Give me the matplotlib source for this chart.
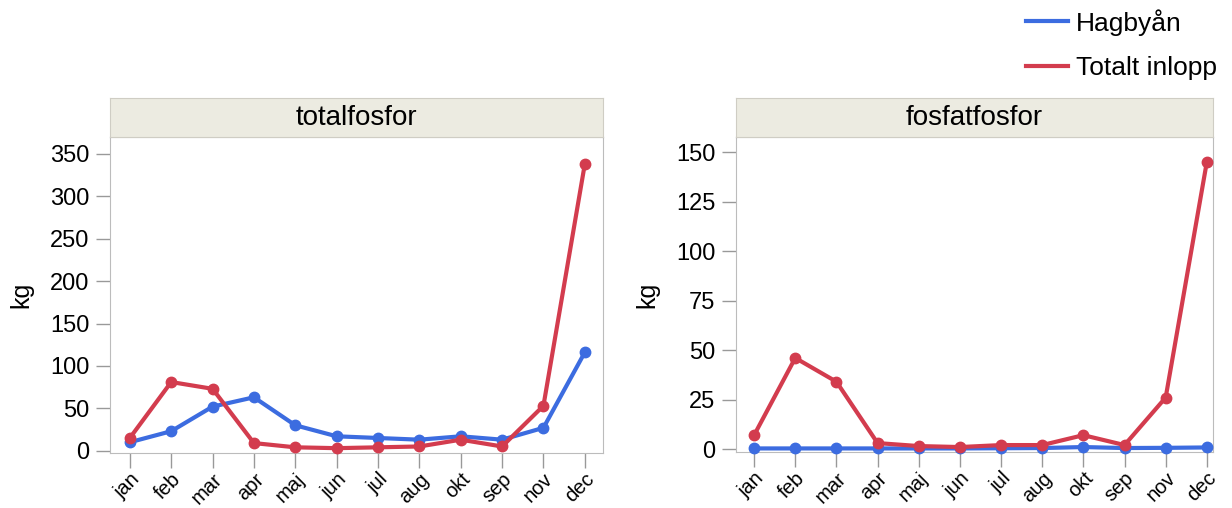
import numpy as np
import matplotlib.pyplot as plt
from matplotlib.lines import Line2D

plt.rcParams['font.family'] = ['Liberation Sans', 'DejaVu Sans']

months = ['jan', 'feb', 'mar', 'apr', 'maj', 'jun', 'jul', 'aug', 'okt', 'sep', 'nov', 'dec']

# totalfosfor, kg per month
tot_hagbyan = [10, 23, 52, 63, 30, 17, 15, 13, 17, 13, 27, 116]
tot_inlopp = [15, 81, 73, 9, 4, 3, 4, 5, 13, 5, 53, 338]

# fosfatfosfor, kg per month
fos_hagbyan = [0.3, 0.3, 0.3, 0.3, 0.3, 0.3, 0.4, 0.5, 1.0, 0.5, 0.6, 0.8]
fos_inlopp = [7, 46, 34, 3, 1.5, 1, 2, 2, 7, 2, 26, 145]

BLUE = '#3c6ce0'
RED = '#d33c4e'
FRAME = '#bcbcbc'

W, H = 1232, 508
fig = plt.figure(figsize=(W / 100, H / 100), dpi=100)

# title, series, pixel box (left, right, top, bottom), y range, y ticks, x range
panels = [
    ('totalfosfor', tot_hagbyan, tot_inlopp, (110, 603, 137, 453), (-2.7, 370),
     np.arange(0, 351, 50), (-0.48, 11.44)),
    ('fosfatfosfor', fos_hagbyan, fos_inlopp, (736, 1213, 137, 452), (-1.5, 157.6),
     np.arange(0, 151, 25), (-0.44, 11.15)),
]

x = np.arange(len(months))

for title, hag, inl, (l, r, t, b), ylim, yticks, xlim in panels:
    ax = fig.add_axes([l / W, 1 - b / H, (r - l) / W, (b - t) / H])
    ax.plot(x, hag, color=BLUE, lw=3, marker='o', ms=7.5, zorder=3, clip_on=False)
    ax.plot(x, inl, color=RED, lw=3, marker='o', ms=7.5, zorder=4, clip_on=False)
    ax.set_xlim(*xlim)
    ax.set_ylim(*ylim)
    ax.set_yticks(yticks)
    ax.set_xticks(x)
    ax.set_xticklabels(months, rotation=45, ha='right', rotation_mode='anchor')
    ax.tick_params(axis='both', colors='#999999', labelcolor='black', length=10, width=1)
    ax.tick_params(axis='x', pad=1, labelsize=14.5, length=11)
    ax.tick_params(axis='y', pad=5, labelsize=17)
    for s in ax.spines.values():
        s.set_color(FRAME)
    ax.set_ylabel('kg', fontsize=18, labelpad=12)

    # facet header strip
    hdr = fig.add_axes([l / W, 1 - t / H, (r - l) / W, 39 / H])
    hdr.set_facecolor('#ecebe1')
    hdr.set_xticks([])
    hdr.set_yticks([])
    for s in hdr.spines.values():
        s.set_color('#cfcdc4')
    hdr.text(0.5, 0.48, title, ha='center', va='center', fontsize=20, transform=hdr.transAxes)

handles = [Line2D([], [], color=BLUE, lw=3), Line2D([], [], color=RED, lw=3)]
fig.legend(handles, ['Hagbyån', 'Totalt inlopp'], loc='upper left',
           bbox_to_anchor=(1026 / W, 1 - 9 / H), frameon=False, fontsize=19,
           handlelength=1.6, handletextpad=0.3, labelspacing=0.76,
           borderpad=0, borderaxespad=0)

fig.savefig('out.png', dpi=100)
